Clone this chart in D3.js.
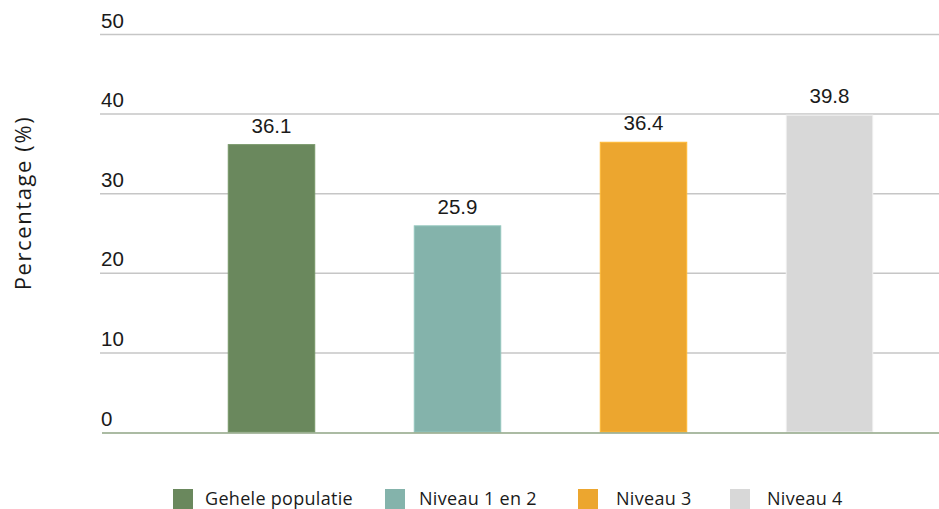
<!DOCTYPE html>
<html>
<head>
<meta charset="utf-8">
<script src="https://cdn.jsdelivr.net/npm/d3@7/dist/d3.min.js"></script>
<style>
  html, body { margin: 0; padding: 0; background: #fff; }
  svg { display: block; }
</style>
</head>
<body>
<svg id="chart" width="939" height="509"></svg>
<script>
// Share of each group, in percent
const categories = ["Gehele populatie", "Niveau 1 en 2", "Niveau 3", "Niveau 4"];
const values = [36.1, 25.9, 36.4, 39.8];
const colors = ["#6a885d", "#84b3ab", "#eca62f", "#d8d8d8"];
const yTicks = [0, 10, 20, 30, 40, 50];
const yTitle = "Percentage (%)";

(function () {
  const svg = d3.select("#chart");
  const gridLeft = 100, gridRight = 939;
  const plotTop = 34, plotBottom = 432;

  const x = d3.scaleBand()
    .domain(categories)
    .range([178.5, 922.5])
    .paddingInner(0.535)
    .paddingOuter(0.2675);

  const y = d3.scaleLinear().domain([0, 50]).range([plotBottom, plotTop]);

  const numFont = "'Liberation Sans', Arial, Helvetica, sans-serif";
  const textFont = "'Open Sans', 'Noto Sans', sans-serif";

  // Horizontal gridlines
  const yAxis = d3.axisLeft(y)
    .tickValues(yTicks.filter(t => t > 0))
    .tickSize(-(gridRight - gridLeft))
    .tickFormat("");
  svg.append("g")
    .attr("transform", `translate(${gridLeft},0)`)
    .call(yAxis)
    .call(g => g.select(".domain").remove())
    .call(g => g.selectAll("line").attr("stroke", "#c6c6c6").attr("stroke-width", 1.5));

  // Tick labels sit above their gridlines
  svg.append("g").selectAll("text")
    .data(yTicks)
    .join("text")
    .attr("x", gridLeft + 1)
    .attr("y", d => y(d) - 6.5)
    .attr("font-family", numFont)
    .attr("font-size", 20.5)
    .attr("fill", "#1a1a1a")
    .text(d => d);

  // Bars
  svg.append("g").selectAll("rect")
    .data(values)
    .join("rect")
    .attr("x", (d, i) => x(categories[i]))
    .attr("y", d => y(d))
    .attr("width", x.bandwidth())
    .attr("height", d => plotBottom - y(d))
    .attr("fill", (d, i) => colors[i])
    .attr("stroke", (d, i) => d3.color(colors[i]).brighter(0.3))
    .attr("stroke-width", 1);

  // Baseline
  svg.append("line")
    .attr("x1", gridLeft + 2).attr("x2", gridRight)
    .attr("y1", y(0) + 1).attr("y2", y(0) + 1)
    .attr("stroke", "#8fa585")
    .attr("stroke-width", 1.5);

  // Value labels
  svg.append("g").selectAll("text")
    .data(values)
    .join("text")
    .attr("x", (d, i) => x(categories[i]) + x.bandwidth() / 2)
    .attr("y", d => y(d) - 12)
    .attr("text-anchor", "middle")
    .attr("font-family", numFont)
    .attr("font-size", 20.5)
    .attr("fill", "#1a1a1a")
    .text(d => d.toFixed(1));

  // Y axis title
  svg.append("text")
    .attr("transform", "translate(31,203) rotate(-90)")
    .attr("text-anchor", "middle")
    .attr("font-family", textFont)
    .attr("font-size", 22)
    .attr("letter-spacing", 1.6)
    .attr("fill", "#1a1a1a")
    .text(yTitle);

  // Legend: swatch and label positions
  const legendX = [173, 385, 578, 730];
  const legendTextX = [205, 419, 616, 767];
  const legend = svg.append("g").selectAll("g")
    .data(categories)
    .join("g");
  legend.append("rect")
    .attr("x", (d, i) => legendX[i])
    .attr("y", 489)
    .attr("width", 20).attr("height", 20)
    .attr("fill", (d, i) => colors[i]);
  legend.append("text")
    .attr("x", (d, i) => legendTextX[i])
    .attr("y", 505)
    .attr("font-family", textFont)
    .attr("font-size", 18)
    .attr("letter-spacing", 0.3)
    .attr("fill", "#1a1a1a")
    .text(d => d);
})();
</script>
</body>
</html>
